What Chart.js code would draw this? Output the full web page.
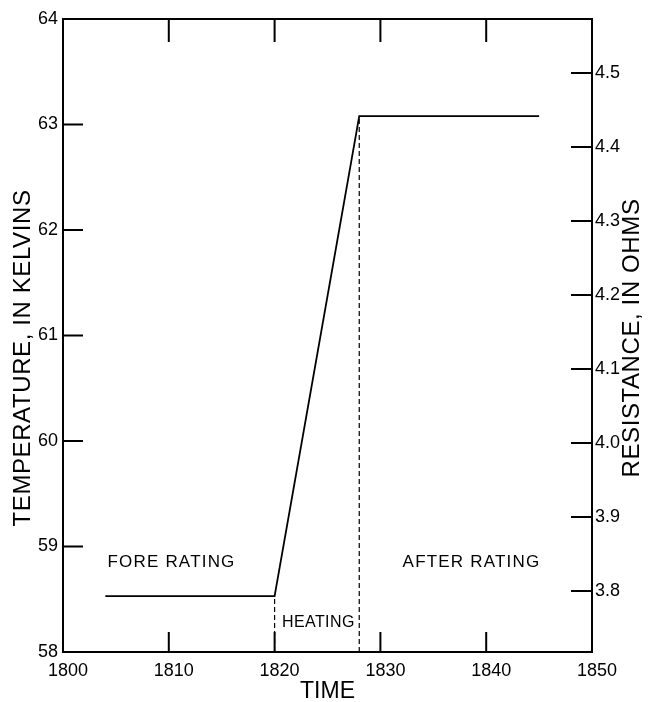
<!DOCTYPE html>
<html>
<head>
<meta charset="utf-8">
<script src="https://cdn.jsdelivr.net/npm/chart.js@4/dist/chart.umd.min.js"></script>
<style>
  body { margin: 0; background: #fff; }
  canvas { display: block; }
</style>
</head>
<body>
<canvas id="chart" width="650" height="702"></canvas>
<script>
// temperature trace
const lineTime = [1804, 1820, 1828, 1845];
const lineTemp = [58.53, 58.53, 63.08, 63.08];
// dashed markers at start / end of heating
const dashTime = [1820, 1828];
const dashTop = [58.53, 63.08];

const timeTicks = [1800, 1810, 1820, 1830, 1840, 1850];
const timeMarks = [1810, 1820, 1830, 1840];
const tempTicks = [58, 59, 60, 61, 62, 63, 64];
const tempMarks = [59, 60, 61, 62, 63];
const ohmTicks = [3.8, 3.9, 4.0, 4.1, 4.2, 4.3, 4.4, 4.5];

const FONT = '"Liberation Sans", Arial, sans-serif';
Chart.defaults.font.family = FONT;
Chart.defaults.color = '#000';

const ctx = document.getElementById('chart');

function vText(ctx, text, x, y) {
  ctx.save();
  ctx.translate(x, y);
  ctx.rotate(-Math.PI / 2);
  ctx.fillText(text, 0, 0);
  ctx.restore();
}

// ticks pointing into the plot, the notes inside it and the two side titles
const extras = {
  id: 'extras',
  afterDraw(chart) {
    const { ctx, chartArea: a, scales } = chart;
    ctx.save();
    ctx.strokeStyle = '#000';
    ctx.lineWidth = 2;
    ctx.beginPath();
    tempMarks.forEach(v => {
      const y = scales.y.getPixelForValue(v);
      ctx.moveTo(a.left, y); ctx.lineTo(a.left + 20, y);
    });
    ohmTicks.forEach(v => {
      const y = scales.y2.getPixelForValue(v);
      ctx.moveTo(a.right, y); ctx.lineTo(a.right - 21, y);
    });
    timeMarks.forEach(v => {
      const x = scales.x.getPixelForValue(v);
      ctx.moveTo(x, a.bottom); ctx.lineTo(x, a.bottom - 20);
      ctx.moveTo(x, a.top); ctx.lineTo(x, a.top + 23);
    });
    ctx.stroke();

    ctx.fillStyle = '#000';
    ctx.textBaseline = 'alphabetic';
    ctx.textAlign = 'left';
    ctx.font = '17px ' + FONT;
    ctx.letterSpacing = '1.2px';
    ctx.fillText('FORE RATING', scales.x.getPixelForValue(1804.2), scales.y.getPixelForValue(58.81));
    ctx.fillText('AFTER RATING', scales.x.getPixelForValue(1832.1), scales.y.getPixelForValue(58.81));
    ctx.font = '16px ' + FONT;
    ctx.letterSpacing = '0.4px';
    ctx.fillText('HEATING', scales.x.getPixelForValue(1820.7), scales.y.getPixelForValue(58.24));

    ctx.font = '24px ' + FONT;
    ctx.letterSpacing = '0.6px';
    ctx.textAlign = 'center';
    ctx.textBaseline = 'middle';
    vText(ctx, 'TEMPERATURE, IN KELVINS', 23, 358);
    vText(ctx, 'RESISTANCE, IN OHMS', 632, 338);
    ctx.restore();
  }
};

const fixTicks = list => scale => { scale.ticks = list.map(v => ({ value: v })); };

new Chart(ctx, {
  type: 'line',
  data: {
    datasets: [{
      data: lineTime.map((t, i) => ({ x: t, y: lineTemp[i] })),
      borderColor: '#000',
      borderWidth: 1.8,
      pointRadius: 0,
      tension: 0
    }, {
      data: [{ x: dashTime[0], y: 58 }, { x: dashTime[0], y: dashTop[0] }],
      borderColor: '#000',
      borderWidth: 1.2,
      borderDash: [5, 3],
      pointRadius: 0
    }, {
      data: [{ x: dashTime[1], y: 58 }, { x: dashTime[1], y: dashTop[1] }],
      borderColor: '#000',
      borderWidth: 1.2,
      borderDash: [5, 3],
      pointRadius: 0
    }]
  },
  options: {
    responsive: false,
    animation: false,
    devicePixelRatio: 1,
    layout: { padding: 0 },
    plugins: { legend: { display: false }, tooltip: { enabled: false } },
    scales: {
      x: {
        type: 'linear', position: 'bottom', min: 1800, max: 1850,
        afterBuildTicks: fixTicks(timeTicks),
        afterFit: s => { s.height = 50; },
        grid: { drawOnChartArea: false, drawTicks: false },
        border: { display: true, width: 2, color: '#000' },
        ticks: { font: { size: 18 }, padding: 8, labelOffset: 5, maxRotation: 0, autoSkip: false, callback: v => String(v) },
        title: { display: true, text: 'TIME', font: { size: 23 }, padding: { top: 0, bottom: -3 } }
      },
      x2: {
        type: 'linear', position: 'top', min: 1800, max: 1850,
        afterFit: s => { s.height = 19; },
        grid: { drawOnChartArea: false, drawTicks: false },
        border: { display: true, width: 2, color: '#000' },
        ticks: { display: false }
      },
      y: {
        type: 'linear', position: 'left', min: 58, max: 64,
        afterBuildTicks: fixTicks(tempTicks),
        afterFit: s => { s.width = 63; },
        grid: { drawOnChartArea: false, drawTicks: false },
        border: { display: true, width: 2, color: '#000' },
        ticks: { font: { size: 18 }, padding: 5, autoSkip: false }
      },
      y2: {
        type: 'linear', position: 'right', min: 3.7176, max: 4.573,
        afterBuildTicks: fixTicks(ohmTicks),
        afterFit: s => { s.width = 58; },
        grid: { drawOnChartArea: false, drawTicks: false },
        border: { display: true, width: 2, color: '#000' },
        ticks: { font: { size: 18 }, padding: 3, autoSkip: false, callback: v => v.toFixed(1) }
      }
    }
  },
  plugins: [extras]
});
</script>
</body>
</html>
